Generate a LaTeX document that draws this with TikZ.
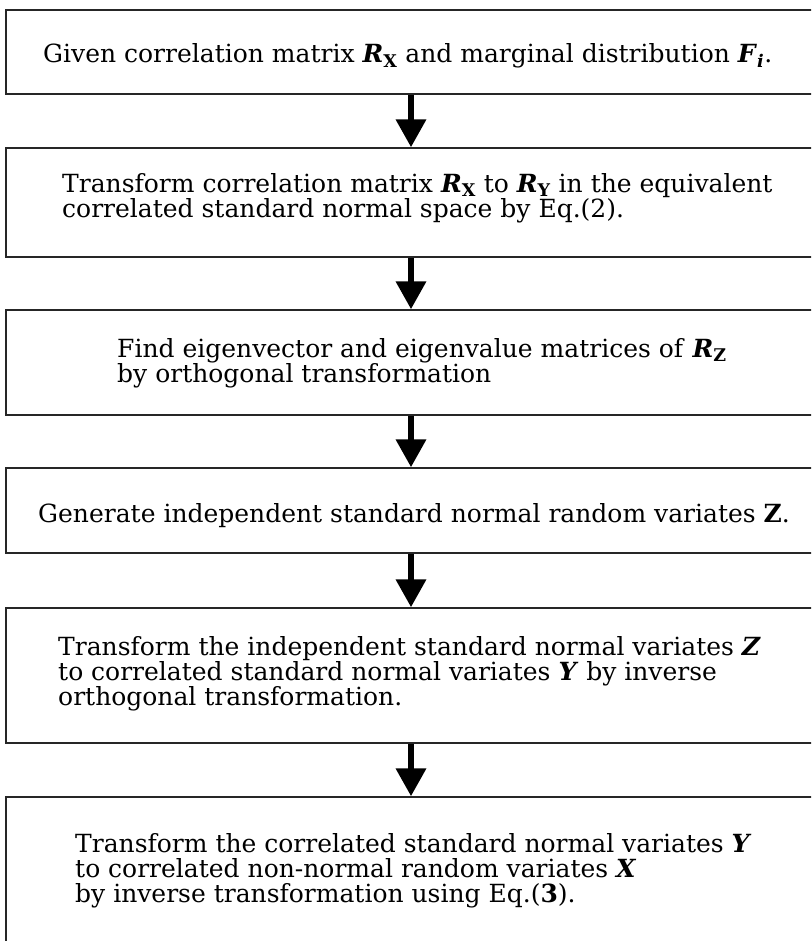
\documentclass[tikz,border=0pt]{standalone}
\usepackage{fontspec}
\setmainfont{DejaVu Serif}
\usetikzlibrary{arrows.meta}
\newcommand{\bvar}[1]{\textbf{\textit{#1}}}
\newcommand{\bsub}[1]{\textsubscript{\textbf{#1}}}

\begin{document}
\begin{tikzpicture}[x=1pt,y=-1pt,
	box/.style={draw=black!85,line width=1.3pt,inner sep=0pt,minimum width=810pt},
	txt/.style={anchor=base west,inner sep=0pt,align=left,font=\fontsize{25}{25}\selectfont},
	arr/.style={line width=6.5pt,-{Triangle[length=28pt,width=29pt]}}]
\useasboundingbox (0,0) rectangle (811,941);
\clip (0,0) rectangle (811,941);
\node[box,minimum height=84pt] (b1) at (411,52) {};
\node[box,minimum height=109pt] (b2) at (411,202.5) {};
\node[box,minimum height=105pt] (b3) at (411,362.5) {};
\node[box,minimum height=85pt] (b4) at (411,510.5) {};
\node[box,minimum height=135pt] (b5) at (411,675.5) {};
\node[box,minimum height=193pt] (b6) at (411,893.5) {};
\node[txt] (t1) at (43,63) {Given correlation matrix \bvar{R}\bsub{X} and marginal distribution \bvar{F}\textsubscript{\bvar{i}}.};
\node[txt,font=\fontsize{25}{21.5}\selectfont] (t2) at (62,218) {Transform correlation matrix \bvar{R}\bsub{X} to \bvar{R}\bsub{Y} in the equivalent\\correlated standard normal space by Eq.(2).};
\node[txt] (t3) at (117,382) {Find eigenvector and eigenvalue matrices of \bvar{R}\bsub{Z}\\by orthogonal transformation};
\node[txt] (t4) at (38,522) {Generate independent standard normal random variates \textbf{Z}.};
\node[txt] (t5) at (58,705) {Transform the independent standard normal variates \bvar{Z}\\to correlated standard normal variates \bvar{Y} by inverse\\orthogonal transformation.};
\node[txt] (t6) at (75,902) {Transform the correlated standard normal variates \bvar{Y}\\to correlated non-normal random variates \bvar{X}\\by inverse transformation using Eq.(\textbf{3}).};
\foreach \a/\b in {b1/b2,b2/b3,b3/b4,b4/b5,b5/b6}
	\draw[arr] (\a.south) -- (\b.north);
\end{tikzpicture}
\end{document}
